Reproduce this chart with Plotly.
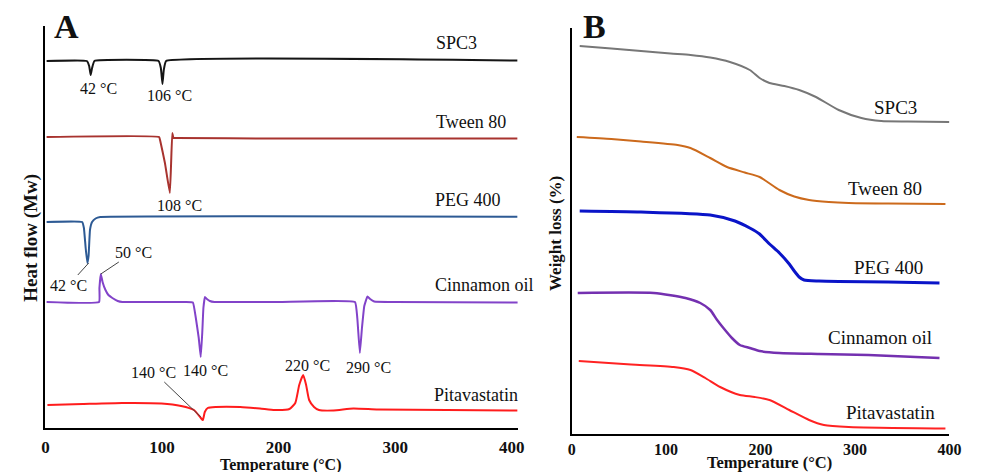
import plotly.graph_objects as go

FONT = "Liberation Serif"

# ---------------- Panel A : DSC (heat flow, arbitrary offset units) ----------------
a_spc3_t = [1, 35.5, 37.5, 38.8, 40, 42, 97, 99, 100.4, 101.5, 103.5, 405]
a_spc3_v = [367, 367, 362, 353, 360, 367, 367, 360, 344, 358, 367, 367.5]

a_tween_t = [1, 97.5, 98.5, 102.5, 106.7, 107.8, 108.8, 109.8, 112, 200, 405]
a_tween_v = [291, 291, 287, 265, 235, 265, 295, 290, 290, 289.5, 289.5]

a_peg_t = [1, 31.5, 33, 34.5, 36, 37, 38.2, 40, 43, 47, 405]
a_peg_v = [206, 206, 200, 180, 165, 172, 198, 206, 209.5, 211, 211.3]

a_cin_t = [1, 46, 46.3, 47.5, 49, 51.5, 54, 57.4, 62, 66, 120, 126.5, 129, 131.5, 133.2,
           134.5, 135.5, 136.8, 138.5, 141, 145, 200, 265.5, 267.5, 269.7, 271.5, 273.5,
           276.2, 278.5, 282, 300, 409]
a_cin_v = [126, 126, 140, 154, 146, 138, 133, 130, 127, 126, 126, 125.5, 110, 90, 71,
           95, 120, 131, 129, 127, 126, 126, 126, 110, 75, 100, 122,
           131.5, 129, 126.5, 126, 125.5]

a_pit_t = [1.7, 32.1, 65.8, 99.6, 116.4, 127.4, 133.3, 135, 136.7, 139.2, 146, 167.1, 184,
           196.6, 209.3, 214.3, 217.7, 221.1, 223.6, 226.2, 230.4, 234.6, 247.2, 264.1,
           285.2, 344.3, 405]
a_pit_v = [23, 24, 25, 24.5, 22, 18, 10, 8, 16, 20, 21, 21, 19.5,
           18, 19, 25, 43, 53, 43, 28, 21, 18, 17.5, 19.5,
           18.5, 18, 17.5]

# ---------------- Panel B : TGA (weight, arbitrary offset units) ----------------
b_spc3_t = [8.5, 42, 73.4, 104.8, 125.8, 146.7, 167.6, 188.6, 199, 209.5, 225.2, 240.9,
            258.7, 282.8, 306.8, 327.8, 356, 400]
b_spc3_v = [388, 385.5, 383, 380.5, 379, 376.5, 372, 364, 356, 351, 348, 344,
            337, 324, 316, 313, 312.5, 312]

b_tween_t = [5.4, 42, 73.4, 112.1, 125.8, 146.7, 164.5, 183.3, 199, 220, 235.7, 251.4,
             272.3, 293.3, 335.1, 395.8]
b_tween_v = [297, 295, 292.5, 289, 286, 276, 267, 261.5, 257, 244, 237.5, 234,
             232, 231, 230.5, 230]

b_peg_t = [8.5, 73.4, 146.7, 172.9, 188.6, 199, 209.5, 220, 230.4, 235.7, 240.9, 246.1,
           261.8, 282.8, 335.1, 389.5]
b_peg_v = [223, 222, 219, 213, 206, 200, 190, 181, 170, 163, 157, 154,
           153, 152.5, 152, 151]

b_cin_t = [6.4, 87, 120.5, 136.2, 146.7, 154, 162.4, 169.7, 178.1, 188.6, 199, 220,
           261.8, 314.2, 389.5]
b_cin_v = [141, 141, 136, 131, 124, 114, 104, 96, 89, 86, 83, 81,
           80, 79, 76]

b_pit_t = [7.5, 62.9, 108, 125.8, 141.5, 157.2, 178.1, 193.8, 209.5, 230.4, 251.4, 267.1,
           293.3, 395.8]
b_pit_v = [73, 69.5, 67, 64, 56, 47, 39, 37, 34, 24, 14, 9,
           7, 5.5]

tick_vals = [0, 100, 200, 300, 400]
tick_text = ["0", "100", "200", "300", "400"]

fig = go.Figure()

def add(t, v, color, width, xa, ya, smooth):
    fig.add_trace(go.Scatter(x=t, y=v, mode="lines", xaxis=xa, yaxis=ya,
                             line=dict(color=color, width=width, shape="spline", smoothing=smooth),
                             hoverinfo="skip", showlegend=False))

add(a_spc3_t, a_spc3_v, "#151515", 2, "x", "y", 0.3)
add(a_tween_t, a_tween_v, "#A8332F", 2, "x", "y", 0.3)
add(a_peg_t, a_peg_v, "#2D5A94", 2, "x", "y", 0.3)
add(a_cin_t, a_cin_v, "#8243C9", 2, "x", "y", 0.3)
add(a_pit_t, a_pit_v, "#FF1C1C", 2, "x", "y", 0.5)

add(b_spc3_t, b_spc3_v, "#777777", 2, "x2", "y2", 0.6)
add(b_tween_t, b_tween_v, "#CC6A1C", 2, "x2", "y2", 0.6)
add(b_peg_t, b_peg_v, "#0A14C8", 3, "x2", "y2", 0.6)
add(b_cin_t, b_cin_v, "#7430B0", 2.5, "x2", "y2", 0.6)
add(b_pit_t, b_pit_v, "#FF2222", 2, "x2", "y2", 0.6)

# page body has an 8px margin: figure is placed at (8, 8) in the window
OFF = 8
W, H = 985 - OFF, 472 - OFF
def px(x): return (x - OFF) / W
def py(y): return 1 - (y - OFF) / H

axis_common = dict(showgrid=False, zeroline=False, showline=True, linecolor="black",
                   linewidth=2, mirror=False)

fig.update_layout(
    width=W, height=H, autosize=False,
    margin=dict(l=0, r=0, t=0, b=0),
    paper_bgcolor="white", plot_bgcolor="white",
    font=dict(family=FONT, color="#111"),
    xaxis=dict(domain=[px(42), px(522)], range=[0, 405], anchor="y",
               tickvals=tick_vals, ticktext=tick_text, ticks="", ticklabelstandoff=3,
               tickfont=dict(family=FONT, size=17, color="#111", weight="bold"), **axis_common),
    yaxis=dict(domain=[py(428), py(26)], range=[0, 402], anchor="x",
               showticklabels=False, ticks="", **axis_common),
    xaxis2=dict(domain=[px(577), px(961)], range=[0, 400], anchor="y2",
                tickvals=tick_vals, ticktext=tick_text, ticks="",
                tickfont=dict(family=FONT, size=16, color="#111", weight="bold"), **axis_common),
    yaxis2=dict(domain=[py(434), py(28)], range=[0, 406], anchor="x2",
                showticklabels=False, ticks="", **axis_common),
)

ann = []
def txt(x, y, s, size, xref="x", yref="y"):
    ann.append(dict(x=x, y=y, xref=xref, yref=yref, text=s, showarrow=False,
                    font=dict(family=FONT, size=size, color="#111"),
                    xanchor="center", yanchor="middle"))

def lead(x, y, s, ax, ay, size=16, xref="x", yref="y"):
    ann.append(dict(x=x, y=y, xref=xref, yref=yref, text=s, showarrow=True,
                    arrowhead=0, arrowwidth=1, arrowcolor="#444", ax=ax, ay=ay,
                    font=dict(family=FONT, size=size, color="#111")))

# Panel A labels
txt(352.7, 385, "SPC3", 18)
txt(365.3, 306, "Tween 80", 18)
txt(362.8, 228, "PEG 400", 18)
txt(376.3, 143, "Cinnamon oil", 18)
txt(369.6, 33, "Pitavastatin", 18)
txt(45.6, 340, "42 °C", 16)
txt(106.3, 333, "106 °C", 16)
txt(114.8, 223, "108 °C", 16)
lead(37.1, 165, "42 °C", -20, 22)
lead(47.5, 154, "50 °C", 33, -22)
txt(137.5, 58, "140 °C", 16)
txt(276.8, 61, "290 °C", 16)
txt(224.4, 63, "220 °C", 16)
lead(133.3, 11, "140 °C", -47, -45)

# Panel B labels
txt(342.4, 327, "SPC3", 19, "x2", "y2")
txt(332, 246, "Tween 80", 19, "x2", "y2")
txt(335.1, 167, "PEG 400", 19, "x2", "y2")
txt(326.7, 97, "Cinnamon oil", 19, "x2", "y2")
txt(337.2, 22, "Pitavastatin", 19, "x2", "y2")

# Panel letters and axis titles
txt(px(63), py(27), "<b>A</b>", 34, "paper", "paper")
txt(px(600), py(26), "<b>B</b>", 34, "paper", "paper")
txt(px(281), py(465), "<b>Temperature (°C)</b>", 16, "paper", "paper")
txt(px(778), py(462), "<b>Temperature (°C)</b>", 16.5, "paper", "paper")
ann.append(dict(x=px(27), y=py(238), xref="paper", yref="paper", text="<b>Heat flow (Mw)</b>",
                showarrow=False, textangle=-90, xanchor="center", yanchor="middle",
                font=dict(family=FONT, size=19, color="#111")))
ann.append(dict(x=px(560), y=py(233), xref="paper", yref="paper", text="<b>Weight loss (%)</b>",
                showarrow=False, textangle=-90, xanchor="center", yanchor="middle",
                font=dict(family=FONT, size=17, color="#111")))

fig.update_layout(annotations=ann)
fig.write_html("out.html")
